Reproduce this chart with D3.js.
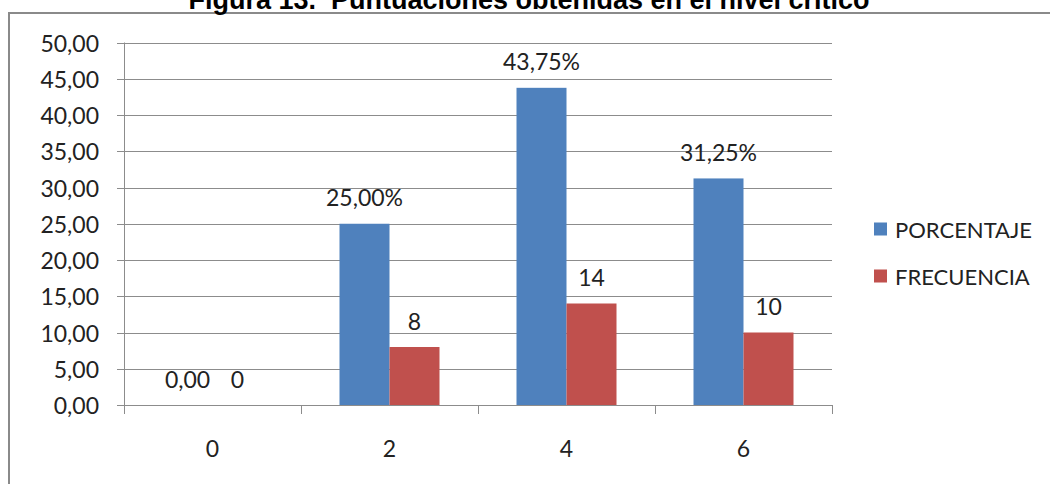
<!DOCTYPE html>
<html>
<head>
<meta charset="utf-8">
<script src="https://cdn.jsdelivr.net/npm/d3@7"></script>
<style>
  html, body { margin: 0; padding: 0; background: #fff; }
  svg { display: block; }
</style>
</head>
<body>
<svg id="chart" width="1050" height="484"></svg>
<script>
const title = "Figura 13.  Puntuaciones obtenidas en el nivel crítico";
const categories = ["0", "2", "4", "6"];
const seriesNames = ["PORCENTAJE", "FRECUENCIA"];
const porcentaje = [0, 25, 43.75, 31.25];
const frecuencia = [0, 8, 14, 10];
const yTicks = [0, 5, 10, 15, 20, 25, 30, 35, 40, 45, 50];
const colors = ["#4F81BD", "#C0504D"];

(function () {
const svg = d3.select("#chart");
const font = "Lato, 'Noto Sans', sans-serif";

const plotLeft = 124, plotRight = 832, plotTop = 42.5, plotBottom = 405;

// chart border (frame)
svg.append("rect")
  .attr("x", 9).attr("y", 13)
  .attr("width", 1060).attr("height", 500)
  .attr("fill", "none").attr("stroke", "#8a8a8a").attr("stroke-width", 2);

// title (partly clipped at top, as in the reference)
svg.append("text")
  .attr("x", 529).attr("y", 9)
  .attr("text-anchor", "middle")
  .style("white-space", "pre")
  .attr("font-family", "'Liberation Sans', Arial, sans-serif")
  .attr("font-weight", "bold")
  .attr("font-size", 27)
  .attr("fill", "#000")
  .text(title);

const x0 = d3.scaleBand().domain(categories).range([plotLeft, plotRight]).padding(0);
const x1 = d3.scaleBand().domain(seriesNames).range([0, x0.bandwidth()]).paddingInner(0).paddingOuter(0.77);
const y = d3.scaleLinear().domain([0, 50]).range([plotBottom, plotTop]);

const fmt2 = v => d3.format(".2f")(v).replace(".", ",");

// gridlines
svg.append("g").selectAll("line").data(yTicks).join("line")
  .attr("x1", plotLeft - 7).attr("x2", plotRight)
  .attr("y1", d => Math.round(y(d)) + 0.5).attr("y2", d => Math.round(y(d)) + 0.5)
  .attr("stroke", "#8c8c8c").attr("stroke-width", 1);

// y tick labels
svg.append("g").selectAll("text").data(yTicks).join("text")
  .attr("x", 99).attr("y", d => y(d))
  .attr("text-anchor", "end").attr("dominant-baseline", "central")
  .attr("font-family", font).attr("font-size", 23).attr("fill", "#222")
  .text(d => fmt2(d));

// y axis line
svg.append("line")
  .attr("x1", plotLeft + 0.5).attr("x2", plotLeft + 0.5)
  .attr("y1", plotTop).attr("y2", plotBottom + 8)
  .attr("stroke", "#8c8c8c");

// x axis ticks at band boundaries
const bounds = categories.map(c => x0(c)).concat([plotRight]);
svg.append("g").selectAll("line").data(bounds).join("line")
  .attr("x1", d => Math.round(d) + 0.5).attr("x2", d => Math.round(d) + 0.5)
  .attr("y1", plotBottom).attr("y2", plotBottom + 9)
  .attr("stroke", "#8c8c8c");

// x labels
svg.append("g").selectAll("text").data(categories).join("text")
  .attr("x", d => x0(d) + x0.bandwidth() / 2).attr("y", 448)
  .attr("text-anchor", "middle").attr("dominant-baseline", "central")
  .attr("font-family", font).attr("font-size", 23).attr("fill", "#222")
  .text(d => d);

// bars
const rows = categories.map((c, i) => ({ c, vals: [porcentaje[i], frecuencia[i]] }));
const groups = svg.append("g").selectAll("g").data(rows).join("g")
  .attr("transform", d => `translate(${x0(d.c)},0)`);

groups.selectAll("rect").data(d => d.vals.map((v, j) => ({ v, j }))).join("rect")
  .attr("x", d => x1(seriesNames[d.j]))
  .attr("width", x1.bandwidth())
  .attr("y", d => y(d.v))
  .attr("height", d => plotBottom - y(d.v))
  .attr("fill", d => colors[d.j]);

groups.selectAll("text").data(d => d.vals.map((v, j) => ({ v, j }))).join("text")
  .attr("x", d => x1(seriesNames[d.j]) + x1.bandwidth() / 2)
  .attr("y", d => y(d.v) - 26.5)
  .attr("text-anchor", "middle").attr("dominant-baseline", "central")
  .attr("font-family", font).attr("font-size", 23).attr("fill", "#222")
  .text(d => d.j === 0 ? (d.v === 0 ? fmt2(d.v) : fmt2(d.v) + "%") : String(d.v));

// legend
const legend = svg.append("g").selectAll("g").data(seriesNames).join("g")
  .attr("transform", (d, i) => `translate(874, ${229 + i * 47})`);
legend.append("rect")
  .attr("x", 0).attr("y", -6.5).attr("width", 13).attr("height", 13)
  .attr("fill", (d, i) => colors[i]);
legend.append("text")
  .attr("x", 21).attr("y", 0).attr("dominant-baseline", "central")
  .attr("font-family", font).attr("font-size", 22).attr("fill", "#222")
  .text(d => d);
})();
</script>
</body>
</html>
